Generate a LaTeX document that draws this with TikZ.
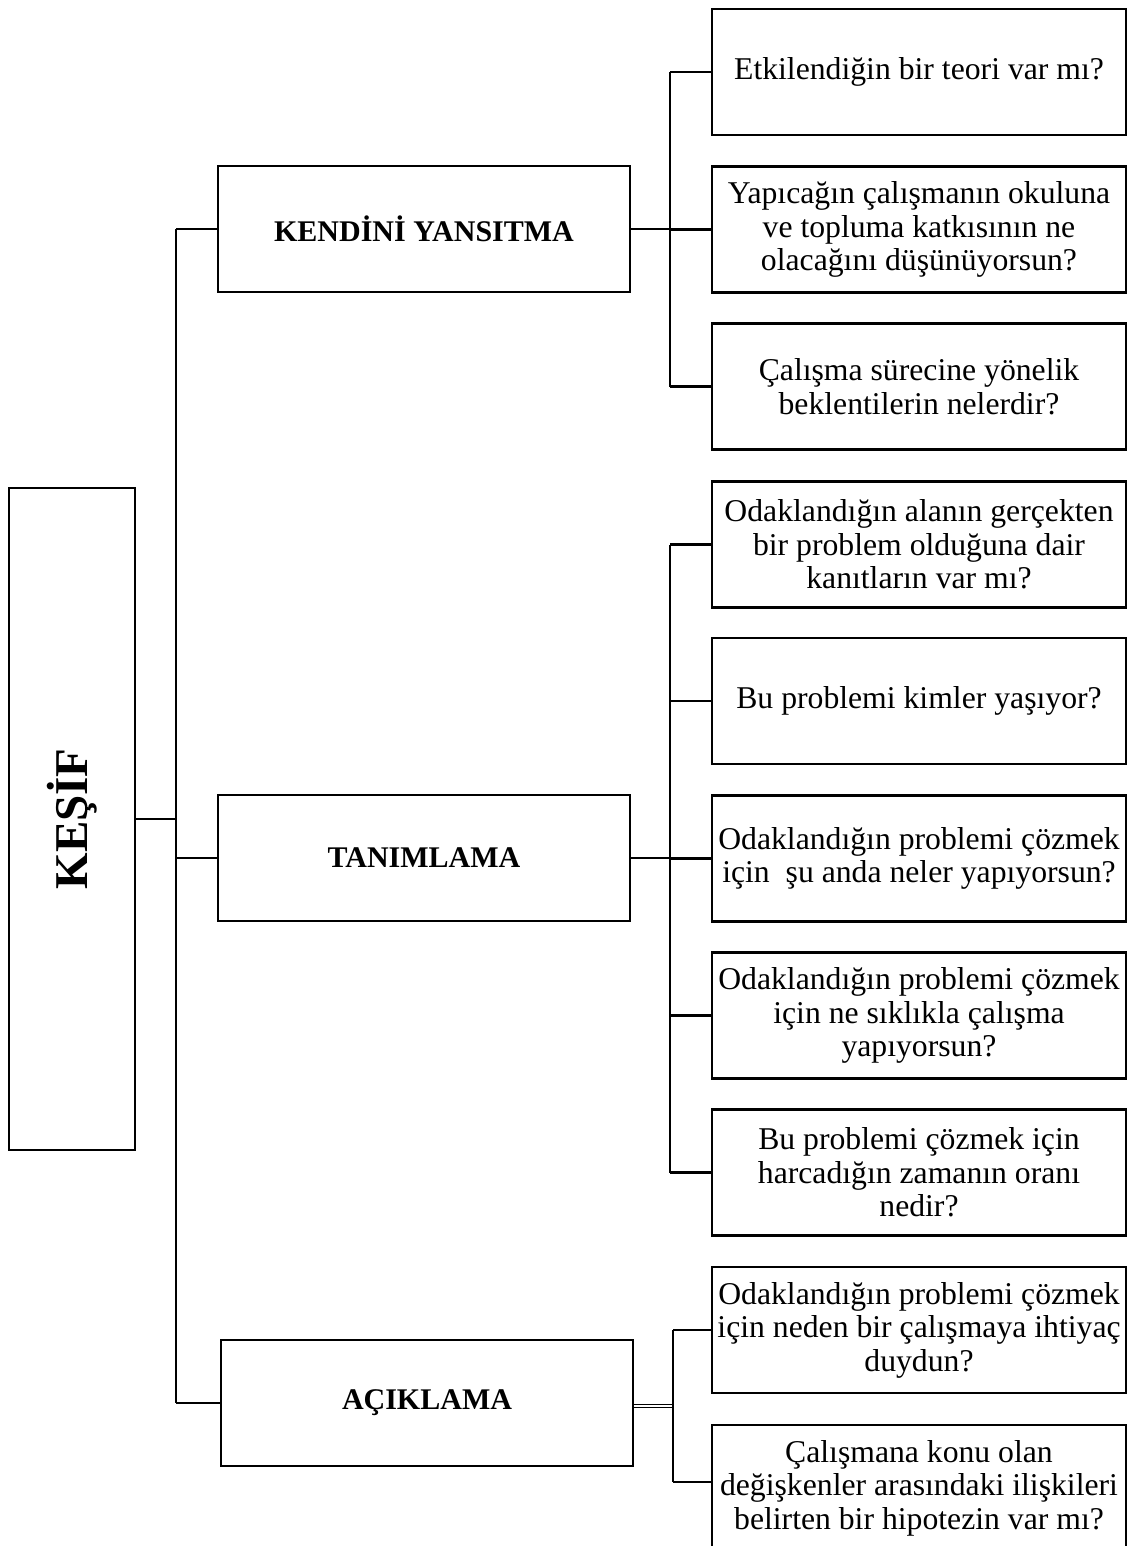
\documentclass[tikz,border=0pt]{standalone}
\usepackage{fontspec}
\setmainfont{Liberation Serif}
\begin{document}
\begin{tikzpicture}[x=1pt,y=-1pt,
  box/.style={draw=black, line width=2.8pt, fill=white, inner sep=0pt, align=center,
    font=\fontsize{31.7}{33.5}\selectfont},
  qbox/.style={box, minimum width=414pt, minimum height=126pt},
  midbox/.style={box, minimum width=412pt, minimum height=126pt,
    font=\fontsize{30}{33}\selectfont\bfseries},
  link/.style={draw=black, line width=2.8pt}
]
\useasboundingbox (0,0) rectangle (1134,1546);
\clip (0,0) rectangle (1134,1546);
\fill[white] (0,0) rectangle (1134,1546);

% root
\node[box, minimum width=126pt, minimum height=662pt] (kesif) at (72,819)
  {\rotatebox{90}{\fontsize{47}{50}\selectfont\bfseries KEŞİF}};

% second level
\node[midbox] (ky)  at (424,229)  {KENDİNİ YANSITMA};
\node[midbox] (tan) at (424,858)  {TANIMLAMA};
\node[midbox] (ack) at (427,1403) {AÇIKLAMA};

% questions
\node[qbox] (q1)  at (919,72)    {Etkilendiğin bir teori var mı?};
\node[qbox] (q2)  at (919,229.5) {Yapıcağın çalışmanın okuluna\\ve topluma katkısının ne\\olacağını düşünüyorsun?};
\node[qbox] (q3)  at (919,386.5) {Çalışma sürecine yönelik\\beklentilerin nelerdir?};
\node[qbox] (q4)  at (919,544.5) {Odaklandığın alanın gerçekten\\bir problem olduğuna dair\\kanıtların var mı?};
\node[qbox] (q5)  at (919,701)   {Bu problemi kimler yaşıyor?};
\node[qbox] (q6)  at (919,858.5) {Odaklandığın problemi çözmek\\için\ \ şu anda neler yapıyorsun?};
\node[qbox] (q7)  at (919,1015.5){Odaklandığın problemi çözmek\\için ne sıklıkla çalışma\\yapıyorsun?};
\node[qbox] (q8)  at (919,1172.5){Bu problemi çözmek için\\harcadığın zamanın oranı\\nedir?};
\node[qbox] (q9)  at (919,1330)  {Odaklandığın problemi çözmek\\için neden bir çalışmaya ihtiyaç\\duydun?};
\node[qbox] (q10) at (919,1488)  {Çalışmana konu olan\\değişkenler arasındaki ilişkileri\\belirten bir hipotezin var mı?};

% bus positions
\coordinate (spine) at (176,0);
\coordinate (busA)  at (670,0);
\coordinate (busC)  at (673,0);

% root to second level
\draw[link] (kesif.east) -- (kesif.east -| spine);
\draw[link] (ky.west -| spine) -- (ack.west -| spine);
\draw[link] (ky.west -| spine) -- (ky.west);
\draw[link] (tan.west -| spine) -- (tan.west);
\draw[link] (ack.west -| spine) -- (ack.west);

% KENDİNİ YANSITMA group
\draw[link] (ky.east) -- (ky.east -| busA);
\draw[link] (q1.west -| busA) -- (q3.west -| busA);
\foreach \q in {q1,q2,q3} \draw[link] (\q.west -| busA) -- (\q.west);

% TANIMLAMA group
\draw[link] (tan.east) -- (tan.east -| busA);
\draw[link] (q4.west -| busA) -- (q8.west -| busA);
\foreach \q in {q4,q5,q6,q7,q8} \draw[link] (\q.west -| busA) -- (\q.west);

% AÇIKLAMA group
\draw[black, line width=1.5pt, double=white, double distance=1.8pt]
  ([yshift=-3pt]ack.east) -- ([yshift=-3pt]ack.east -| busC);
\draw[link] (q9.west -| busC) -- ([yshift=6pt]q10.west -| busC);
\draw[link] (q9.west -| busC) -- (q9.west);
\draw[link] ([yshift=6pt]q10.west -| busC) -- ([yshift=6pt]q10.west);
\end{tikzpicture}
\end{document}
